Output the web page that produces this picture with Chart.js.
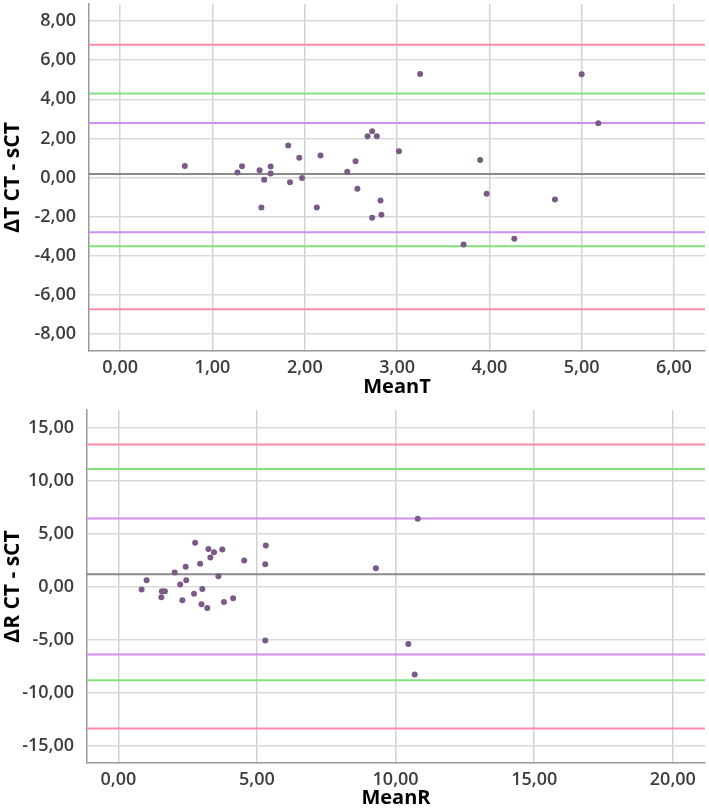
<!DOCTYPE html>
<html>
<head>
<meta charset="utf-8">
<script src="https://cdn.jsdelivr.net/npm/chart.js@4.4.1/dist/chart.umd.min.js"></script>
<style>
  html, body { margin: 0; padding: 0; background: #fff; overflow: hidden; }
  .box { position: absolute; left: 0; width: 709px; }
</style>
</head>
<body>
<div class="box" style="top:0;height:400px"><canvas id="chartT" width="709" height="400"></canvas></div>
<div class="box" style="top:400px;height:408px"><canvas id="chartR" width="709" height="408"></canvas></div>
<script>
// Top panel: MeanT vs ΔT (CT - sCT)
const meanT = [0.70, 1.27, 1.32, 1.51, 1.53, 1.56, 1.63, 1.63, 1.82, 1.84, 1.94, 1.97, 2.13, 2.17, 2.46, 2.55,
               2.57, 2.68, 2.73, 2.78, 2.73, 2.82, 2.83, 3.02, 3.25, 3.72, 3.90, 3.97, 4.27, 4.71, 5.00, 5.18];
const diffT = [0.59, 0.25, 0.58, 0.37, -1.54, -0.12, 0.56, 0.20, 1.64, -0.24, 1.01, -0.03, -1.54, 1.12, 0.29, 0.83,
               -0.58, 2.11, 2.37, 2.11, -2.06, -1.17, -1.91, 1.34, 5.29, -3.43, 0.90, -0.83, -3.13, -1.12, 5.28, 2.77];
const meanLineT = 0.18;
const innerLimitsT = [2.78, -2.80];   // purple
const midLimitsT = [4.29, -3.51];     // green
const outerLimitsT = [6.79, -6.73];   // pink
const xTicksT = [0, 1, 2, 3, 4, 5, 6];
const yTicksT = [-8, -6, -4, -2, 0, 2, 4, 6, 8];

// Bottom panel: MeanR vs ΔR (CT - sCT)
const meanR = [0.84, 1.02, 1.55, 1.57, 1.68, 2.03, 2.23, 2.31, 2.43, 2.45, 2.73, 2.77, 2.95, 3.00, 3.03, 3.21,
               3.25, 3.32, 3.45, 3.61, 3.75, 3.81, 4.14, 4.54, 5.30, 5.32, 5.30, 9.29, 10.80, 10.46, 10.69];
const diffR = [-0.25, 0.63, -0.97, -0.41, -0.41, 1.35, 0.22, -1.26, 1.89, 0.63, -0.66, 4.15, 2.17, -1.64, -0.19, -1.98,
               3.58, 2.77, 3.27, 1.01, 3.52, -1.42, -1.07, 2.48, 2.14, 3.90, -5.06, 1.76, 6.42, -5.38, -8.27];
const meanLineR = 1.19;
const innerLimitsR = [6.45, -6.38];
const midLimitsR = [11.10, -8.81];
const outerLimitsR = [13.43, -13.36];
const xTicksR = [0, 5, 10, 15, 20];
const yTicksR = [-15, -10, -5, 0, 5, 10, 15];

Chart.defaults.font.family = "'Open Sans', sans-serif";

const fmt = v => v.toFixed(2).replace('.', ',');

function hLine(y, color, width, xMin, xMax) {
    return {
        type: 'line',
        data: [{ x: xMin, y: y }, { x: xMax, y: y }],
        borderColor: color,
        borderWidth: width,
        pointRadius: 0,
        fill: false,
        order: 2
    };
}

function makePanel(id, p) {
    const lines = [];
    p.outer.forEach(v => lines.push(hLine(v, '#ff8ca6', 2, p.xMin, p.xMax)));
    p.mid.forEach(v => lines.push(hLine(v, '#84e07c', 2, p.xMin, p.xMax)));
    p.inner.forEach(v => lines.push(hLine(v, '#cf8ef0', 2, p.xMin, p.xMax)));
    lines.push(hLine(p.mean, '#8a8a8a', 2, p.xMin, p.xMax));

    const points = {
        type: 'scatter',
        data: p.xs.map((x, i) => ({ x: x, y: p.ys[i] })),
        backgroundColor: '#7b5a88',
        borderWidth: 0,
        pointRadius: 3,
        order: 1
    };

    return new Chart(document.getElementById(id), {
        type: 'scatter',
        data: { datasets: [points, ...lines] },
        options: {
            responsive: false,
            animation: false,
            layout: { padding: p.padding },
            plugins: { legend: { display: false }, tooltip: { enabled: false } },
            scales: {
                x: {
                    type: 'linear',
                    min: p.xMin,
                    max: p.xMax,
                    afterBuildTicks: ax => { ax.ticks = p.xTicks.map(v => ({ value: v })); },
                    afterFit: s => { s.height = p.xHeight; s.paddingLeft = 0; s.paddingRight = 0; },
                    ticks: {
                        callback: v => fmt(v),
                        font: { size: 18, weight: '600' },
                        color: '#3d3d3d',
                        padding: 6,
                        maxRotation: 0,
                        autoSkip: false
                    },
                    grid: { color: '#d2d2d2', lineWidth: 1.5, drawTicks: false },
                    border: { color: '#9a9a9a', width: 1.5 },
                    title: {
                        display: true,
                        text: p.xTitle,
                        color: '#000',
                        font: { size: 20, weight: 'bold' },
                        padding: { top: 0, bottom: p.xTitlePad }
                    }
                },
                y: {
                    type: 'linear',
                    min: p.yMin,
                    max: p.yMax,
                    afterBuildTicks: ax => { ax.ticks = p.yTicks.map(v => ({ value: v })); },
                    afterFit: s => { s.width = p.yWidth; s.paddingTop = 0; s.paddingBottom = 0; },
                    ticks: {
                        callback: v => fmt(v),
                        font: { size: 18, weight: '600' },
                        color: '#3d3d3d',
                        padding: 13,
                        autoSkip: false
                    },
                    grid: { color: '#d9d9d9', lineWidth: 1.5, drawTicks: false },
                    border: { color: '#9a9a9a', width: 1.5 },
                    title: {
                        display: true,
                        text: p.yTitle,
                        color: '#000',
                        font: { size: 21, weight: 'bold' },
                        padding: { top: 0, bottom: 0 }
                    }
                }
            }
        }
    });
}

makePanel('chartT', {
    xs: meanT, ys: diffT,
    mean: meanLineT, inner: innerLimitsT, mid: midLimitsT, outer: outerLimitsT,
    xTicks: xTicksT, yTicks: yTicksT,
    xMin: -0.338, xMax: 6.336, yMin: -8.87, yMax: 8.87,
    xTitle: 'MeanT', yTitle: 'ΔT CT - sCT',
    padding: { top: 2, right: 2, left: 0, bottom: 0 },
    xHeight: 49, yWidth: 89, xTitlePad: 1
});

makePanel('chartR', {
    xs: meanR, ys: diffR,
    mean: meanLineR, inner: innerLimitsR, mid: midLimitsR, outer: outerLimitsR,
    xTicks: xTicksR, yTicks: yTicksR,
    xMin: -1.13, xMax: 21.16, yMin: -16.6, yMax: 16.67,
    xTitle: 'MeanR', yTitle: 'ΔR CT - sCT',
    padding: { top: 10, right: 2, left: 0, bottom: 0 },
    xHeight: 45, yWidth: 87, xTitlePad: -2
});
</script>
</body>
</html>
